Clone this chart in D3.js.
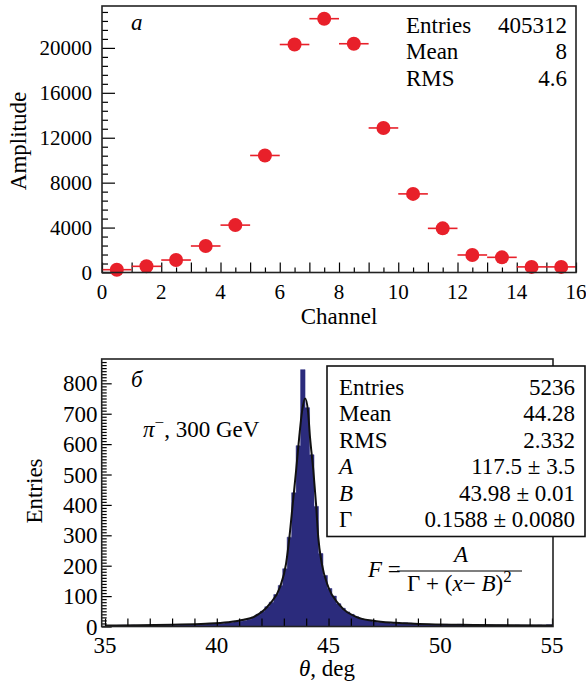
<!DOCTYPE html>
<html>
<head>
<meta charset="utf-8">
<script src="https://cdn.jsdelivr.net/npm/d3@7"></script>
<style>
  body { margin: 0; background: #fff; }
  svg { display: block; }
</style>
</head>
<body>
<svg id="chart" width="586" height="683"></svg>
<script>
// ---- panel a: amplitude per channel ----
const channels   = [0.5, 1.5, 2.5, 3.5, 4.5, 5.5, 6.5, 7.5, 8.5, 9.5, 10.5, 11.5, 12.5, 13.5, 14.5, 15.5];
const amplitudes = [250, 550, 1110, 2360, 4220, 10420, 20300, 22600, 20370, 12870, 7000, 3930, 1560, 1350, 500, 500];
const ampTicks   = [0, 4000, 8000, 12000, 16000, 20000];
const chanTicks  = [0, 2, 4, 6, 8, 10, 12, 14, 16];
const statsA     = [['Entries', '405312'], ['Mean', '8'], ['RMS', '4.6']];

// ---- panel b: theta histogram, 0.2 deg bins ----
const binStart = 34.95;
const binWidth = 0.2;
const counts = [
  0, 0, 3, 4, 4, 3, 4, 3, 3, 3,
  3, 3, 3, 4, 4, 4, 4, 5, 5, 6,
  6, 7, 7, 8, 9, 9, 10, 12, 13, 15,
  17, 20, 24, 31, 40, 50, 65, 80, 105, 135,
  190, 294, 440, 595, 845, 720, 565, 395, 240, 168,
  125, 100, 75, 60, 48, 40, 32, 26, 22, 19,
  16, 14, 13, 12, 11, 10, 11, 12, 11, 9,
  8, 7, 7, 6, 6, 7, 7, 6, 6, 7,
  6, 5, 5, 6, 5, 5, 5, 4, 5, 5,
  4, 4, 5, 4, 4, 4, 4, 5, 4, 6,
  6
];
// fitted curve
const fitX = [35.0, 36.5, 38.0, 39.5, 40.5, 41.2, 41.64, 42.38, 42.83, 43.10, 43.25, 43.40, 43.55, 43.69, 43.82,
              43.95, 44.08, 44.17, 44.32, 44.44, 44.54, 44.70, 44.99, 45.44, 46.26, 47.0, 48.0, 49.5, 51.5, 55.05];
const fitY = [3, 4, 6, 9, 14, 22, 31, 75, 130, 207, 294, 404, 514, 624, 710,
              750, 710, 624, 514, 404, 294, 207, 130, 75, 31, 19, 12, 7, 5, 3];
const thetaTicks = [35, 40, 45, 50, 55];
const entryTicks = [0, 100, 200, 300, 400, 500, 600, 700, 800];
const statsB = [
  ['Entries', '5236'], ['Mean', '44.28'], ['RMS', '2.332'],
  ['A', '117.5 \u00b1 3.5'], ['B', '43.98 \u00b1 0.01'], ['\u0393', '0.1588 \u00b1 0.0080']
];

const RED = '#e8202a';
const NAVY = '#2b2b7c';
const svg = d3.select('#chart');

// every text goes through here so the serif face is set on the element itself
function label(parent, size) {
  return parent.append('text')
    .style('font-family', "'Liberation Serif'")
    .attr('font-size', size)
    .attr('fill', '#000');
}

// draw inward ticks using a d3 axis, no domain line
function tickRow(g, axis) {
  g.call(axis);
  g.select('.domain').remove();
  g.selectAll('line').attr('stroke', '#000').attr('stroke-width', 1.2);
  g.selectAll('text').remove();
}

// ================= panel a =================
const xa = d3.scaleLinear().domain([0, 16]).range([102, 576]);
const ya = d3.scaleLinear().domain([0, 23730]).range([272.5, 6]);

const ga = svg.append('g');

tickRow(ga.append('g').attr('transform', `translate(0,${ya(0)})`),
  d3.axisBottom(xa).tickValues(d3.range(0, 16.01, 1)).tickSizeInner(-10).tickSizeOuter(0));
tickRow(ga.append('g').attr('transform', `translate(0,${ya(0)})`),
  d3.axisBottom(xa).tickValues(d3.range(0.5, 16, 1)).tickSizeInner(-5).tickSizeOuter(0));
tickRow(ga.append('g').attr('transform', `translate(${xa(0)},0)`),
  d3.axisLeft(ya).tickValues(d3.range(0, 23730, 4000)).tickSizeInner(-13).tickSizeOuter(0));
tickRow(ga.append('g').attr('transform', `translate(${xa(0)},0)`),
  d3.axisLeft(ya).tickValues(d3.range(800, 23730, 800).filter(v => v % 4000)).tickSizeInner(-6).tickSizeOuter(0));

// error bars + markers
ga.selectAll('line.err')
  .data(channels)
  .join('line')
  .attr('class', 'err')
  .attr('x1', d => xa(d - 0.5))
  .attr('x2', d => xa(d + 0.5))
  .attr('y1', (d, i) => ya(amplitudes[i]))
  .attr('y2', (d, i) => ya(amplitudes[i]))
  .attr('stroke', RED)
  .attr('stroke-width', 1.6);

ga.selectAll('circle.pt')
  .data(channels)
  .join('circle')
  .attr('class', 'pt')
  .attr('cx', d => xa(d))
  .attr('cy', (d, i) => ya(amplitudes[i]))
  .attr('r', 7)
  .attr('fill', RED);

ga.append('rect')
  .attr('x', xa(0)).attr('y', ya.range()[1])
  .attr('width', xa(16) - xa(0)).attr('height', ya(0) - ya.range()[1])
  .attr('fill', 'none').attr('stroke', '#222').attr('stroke-width', 1.6);

// tick labels
chanTicks.forEach(d => {
  label(ga, 21).attr('x', xa(d)).attr('y', 299).attr('text-anchor', 'middle').text(d);
});
ampTicks.forEach(d => {
  label(ga, 21).attr('x', 92).attr('y', ya(d) + 7.5).attr('text-anchor', 'end').text(d);
});

label(ga, 23).attr('x', 339).attr('y', 324).attr('text-anchor', 'middle').text('Channel');
label(ga, 23).attr('transform', 'translate(26,141) rotate(-90)').attr('text-anchor', 'middle').text('Amplitude');
label(ga, 23).attr('x', 131).attr('y', 29.5).attr('font-style', 'italic').text('\u0430');

statsA.forEach(([k, v], i) => {
  label(ga, 23).attr('x', 406).attr('y', 32.5 + i * 26.5).text(k);
  label(ga, 23).attr('x', 567).attr('y', 32.5 + i * 26.5).attr('text-anchor', 'end').text(v);
});

// ================= panel b =================
const xb = d3.scaleLinear().domain([34.85, 55.045]).range([101.7, 553]);
const yb = d3.scaleLinear().domain([0, 880]).range([626.5, 359]);

const gb = svg.append('g');

gb.append('clipPath').attr('id', 'clipb')
  .append('rect').attr('x', xb.range()[0]).attr('y', yb.range()[1])
  .attr('width', xb.range()[1] - xb.range()[0]).attr('height', yb(0) - yb.range()[1]);

const bins = counts.map((c, i) => ({ x0: binStart + i * binWidth, v: c }));
bins.push({ x0: binStart + counts.length * binWidth, v: counts[counts.length - 1] });

const plot = gb.append('g').attr('clip-path', 'url(#clipb)');

plot.append('path')
  .datum(bins)
  .attr('d', d3.area()
    .x(d => xb(d.x0))
    .y0(yb(0))
    .y1(d => yb(d.v))
    .curve(d3.curveStepAfter))
  .attr('fill', NAVY)
  .attr('stroke', NAVY)
  .attr('stroke-width', 0.5);

plot.append('path')
  .datum(fitX)
  .attr('d', d3.line()
    .x(d => xb(d))
    .y((d, i) => yb(fitY[i]))
    .curve(d3.curveMonotoneX))
  .attr('fill', 'none')
  .attr('stroke', '#111')
  .attr('stroke-width', 2);

tickRow(gb.append('g').attr('transform', `translate(0,${yb(0)})`),
  d3.axisBottom(xb).tickValues(d3.range(35, 55.01, 1)).tickSizeInner(-8).tickSizeOuter(0));
tickRow(gb.append('g').attr('transform', `translate(${xb.range()[0]},0)`),
  d3.axisLeft(yb).tickValues(d3.range(0, 880, 100)).tickSizeInner(-10).tickSizeOuter(0));
tickRow(gb.append('g').attr('transform', `translate(${xb.range()[0]},0)`),
  d3.axisLeft(yb).tickValues(d3.range(10, 880, 10).filter(v => v % 100)).tickSizeInner(-5).tickSizeOuter(0));

gb.append('rect')
  .attr('x', xb.range()[0]).attr('y', yb.range()[1])
  .attr('width', xb.range()[1] - xb.range()[0]).attr('height', yb(0) - yb.range()[1])
  .attr('fill', 'none').attr('stroke', '#222').attr('stroke-width', 1.6);

thetaTicks.forEach(d => {
  label(gb, 23).attr('x', xb(d)).attr('y', 653).attr('text-anchor', 'middle').text(d);
});
entryTicks.forEach(d => {
  label(gb, 23).attr('x', 97.5).attr('y', yb(d) + 8).attr('text-anchor', 'end').text(d);
});

const xlab = label(gb, 23).attr('x', 327).attr('y', 676).attr('text-anchor', 'middle');
xlab.append('tspan').attr('font-style', 'italic').text('\u03b8');
xlab.append('tspan').text(', deg');

label(gb, 23).attr('transform', 'translate(42,491) rotate(-90)').attr('text-anchor', 'middle').text('Entries');
label(gb, 23).attr('x', 131).attr('y', 387).attr('font-style', 'italic').text('\u0431');

const pi = label(gb, 23).attr('x', 143).attr('y', 437);
pi.append('tspan').attr('font-style', 'italic').text('\u03c0');
pi.append('tspan').attr('font-size', 17).attr('dy', -9).text('\u2212');
pi.append('tspan').attr('dy', 9).text(', 300 GeV');

// stats box
gb.append('rect').attr('x', 327).attr('y', 366).attr('width', 258).attr('height', 170.5)
  .attr('fill', '#fff').attr('stroke', '#111').attr('stroke-width', 1.6);
statsB.forEach(([k, v], i) => {
  label(gb, 23).attr('x', 339).attr('y', 395 + i * 26.4)
    .attr('font-style', (k === 'A' || k === 'B') ? 'italic' : 'normal').text(k);
  label(gb, 23).attr('x', 575).attr('y', 395 + i * 26.4).attr('text-anchor', 'end').text(v);
});

// formula
const fF = label(gb, 23).attr('x', 368).attr('y', 577);
fF.append('tspan').attr('font-style', 'italic').text('F');
fF.append('tspan').text(' =');
gb.append('line').attr('x1', 397).attr('x2', 522).attr('y1', 571).attr('y2', 571)
  .attr('stroke', '#000').attr('stroke-width', 1.2);
label(gb, 23).attr('x', 461).attr('y', 562).attr('text-anchor', 'middle')
  .attr('font-style', 'italic').text('A');
const den = label(gb, 23).attr('x', 407).attr('y', 591);
den.append('tspan').text('\u0393 + (');
den.append('tspan').attr('font-style', 'italic').text('x');
den.append('tspan').text('\u2212 ');
den.append('tspan').attr('font-style', 'italic').text('B');
den.append('tspan').text(')');
den.append('tspan').attr('font-size', 17).attr('dy', -9).text('2');
</script>
</body>
</html>
